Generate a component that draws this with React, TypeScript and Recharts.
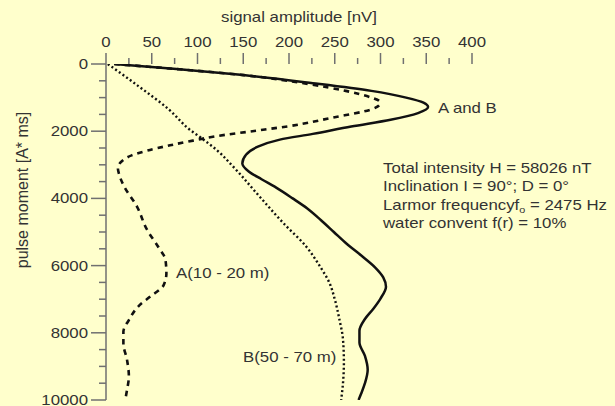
import React from 'react';
import { LineChart, Line, XAxis, YAxis, Customized } from 'recharts';

// ---- data ----
const amplitudeTicks = [0, 25, 50, 75, 100, 125, 150, 175, 200, 225, 250, 275, 300, 325, 350, 375, 400];
const momentTicks = [0, 500, 1000, 1500, 2000, 2500, 3000, 3500, 4000, 4500, 5000, 5500, 6000, 6500, 7000, 7500, 8000, 8500, 9000, 9500, 10000];

// A and B (solid)
const amplitudeAB = [9, 77, 150, 226, 290, 328, 347, 352, 341, 311, 268, 226, 190, 166, 153, 149, 156, 170, 186, 204, 220, 235, 249, 263, 279, 294, 303, 306, 300, 292, 283, 277, 277, 283, 286, 283, 279, 276];
const momentAB = [0, 150, 330, 570, 800, 1000, 1150, 1280, 1460, 1660, 1860, 2080, 2250, 2460, 2700, 2960, 3200, 3430, 3680, 4000, 4300, 4650, 5000, 5350, 5700, 6050, 6350, 6630, 6980, 7290, 7590, 7940, 8290, 8690, 9100, 9500, 9800, 10000];

// A (10 - 20 m) (dashed)
const amplitudeA = [9, 77, 150, 222, 262, 290, 299, 299, 290, 247, 200, 160, 120, 95, 70, 45, 28, 17, 13, 14, 19, 34, 45, 57, 65, 66, 63, 48, 37, 25, 19, 19, 23, 25, 23, 21];
const momentA = [0, 150, 330, 600, 800, 1000, 1120, 1200, 1350, 1600, 1850, 2000, 2150, 2280, 2420, 2580, 2720, 2900, 3100, 3250, 3600, 4250, 4940, 5440, 5830, 6230, 6580, 6930, 7170, 7620, 7970, 8320, 8810, 9300, 9700, 10000];

// B (50 - 70 m) (dotted)
const amplitudeB = [2, 35, 69, 92, 104, 121, 139, 168, 194, 219, 234, 244, 250, 255, 259, 260, 259, 257];
const momentB = [0, 650, 1360, 1964, 2200, 2560, 3056, 3950, 4740, 5440, 6030, 6500, 7000, 7590, 8190, 8890, 9500, 10000];

const toRows = (xs: number[], ys: number[]) => xs.map((x, i) => ({ x, y: ys[i] }));
const dataAB = toRows(amplitudeAB, momentAB);
const dataA = toRows(amplitudeA, momentA);
const dataB = toRows(amplitudeB, momentB);

const FONT = '"Liberation Sans", Arial, Helvetica, sans-serif';
const AXIS = '#707070';
const TEXT = '#333333';
const SX = 1.2;

const XTick = (props: any) => {
  const { x, y, payload } = props;
  const v = payload.value;
  const major = v % 50 === 0;
  return (
    <g>
      <line x1={x} x2={x} y1={y} y2={y - (major ? 11 : 6)} stroke={AXIS} strokeWidth={1.5} />
      {major && (
        <text transform={`translate(${x} ${y - 17}) scale(${SX} 1)`} textAnchor="middle" fontSize={14} fontFamily={FONT} fill={TEXT}>
          {v}
        </text>
      )}
    </g>
  );
};

const YTick = (props: any) => {
  const { x, y, payload } = props;
  const v = payload.value;
  const major = v % 2000 === 0;
  return (
    <g>
      <line x1={x - (major ? 15 : 7)} x2={x} y1={y} y2={y} stroke={AXIS} strokeWidth={1.5} />
      {major && (
        <text transform={`translate(${x - 18} ${y + 5}) scale(${SX} 1)`} textAnchor="end" fontSize={14} fontFamily={FONT} fill={TEXT}>
          {v}
        </text>
      )}
    </g>
  );
};

const T = ({ x, y, children, anchor = 'start', size = 14 }: any) => (
  <text transform={`translate(${x} ${y}) scale(${SX} 1)`} textAnchor={anchor} fontSize={size} fontFamily={FONT} fill={TEXT}>
    {children}
  </text>
);

const Annotations = () => (
  <g>
    <T x={299} y={22} anchor="middle">signal amplitude [nV]</T>
    <text transform="translate(27.5 190) rotate(-90)" textAnchor="middle" fontSize={16} fontFamily={FONT} fill={TEXT}>
      pulse moment [A* ms]
    </text>
    <T x={438} y={113}>A and B</T>
    <T x={176} y={278}>A(10 - 20 m)</T>
    <T x={243} y={362}>B(50 - 70 m)</T>
    <T x={383} y={173}>Total intensity H = 58026 nT</T>
    <T x={383} y={191}>Inclination I = 90°; D = 0°</T>
    <T x={383} y={209.5}>
      Larmor frequencyf
      <tspan fontSize={9} dy={3}>o</tspan>
      <tspan dy={-3}> = 2475 Hz</tspan>
    </T>
    <T x={383} y={228}>water convent f(r) = 10%</T>
  </g>
);

export default function App() {
  return (
    <div style={{ position: 'fixed', left: 0, top: 0, width: 615, height: 406, background: '#FFFFCC' }}>
      <LineChart width={615} height={406} layout="vertical" margin={{ top: 4, right: 143, bottom: 6, left: 1 }}>
        <XAxis
          type="number"
          orientation="top"
          dataKey="x"
          domain={[0, 400]}
          ticks={amplitudeTicks}
          interval={0}
          allowDataOverflow
          height={60}
          tickSize={0}
          tickMargin={0}
          axisLine={false}
          tickLine={false}
          tick={<XTick />}
        />
        <YAxis
          type="number"
          dataKey="y"
          domain={[0, 10000]}
          ticks={momentTicks}
          interval={0}
          allowDataOverflow
          width={105}
          tickSize={0}
          tickMargin={0}
          axisLine={{ stroke: AXIS, strokeWidth: 1.5 }}
          tickLine={false}
          tick={<YTick />}
        />
        <Line data={dataB} dataKey="x" type="monotone" stroke="#111" strokeWidth={2.4} strokeDasharray="2 2.5" dot={false} activeDot={false} isAnimationActive={false} />
        <Line data={dataA} dataKey="x" type="monotone" stroke="#111" strokeWidth={2.6} strokeDasharray="5.5 5" dot={false} activeDot={false} isAnimationActive={false} />
        <Line data={dataAB} dataKey="x" type="monotone" stroke="#111" strokeWidth={2.5} dot={false} activeDot={false} isAnimationActive={false} />
        <Customized component={<Annotations />} />
      </LineChart>
    </div>
  );
}
